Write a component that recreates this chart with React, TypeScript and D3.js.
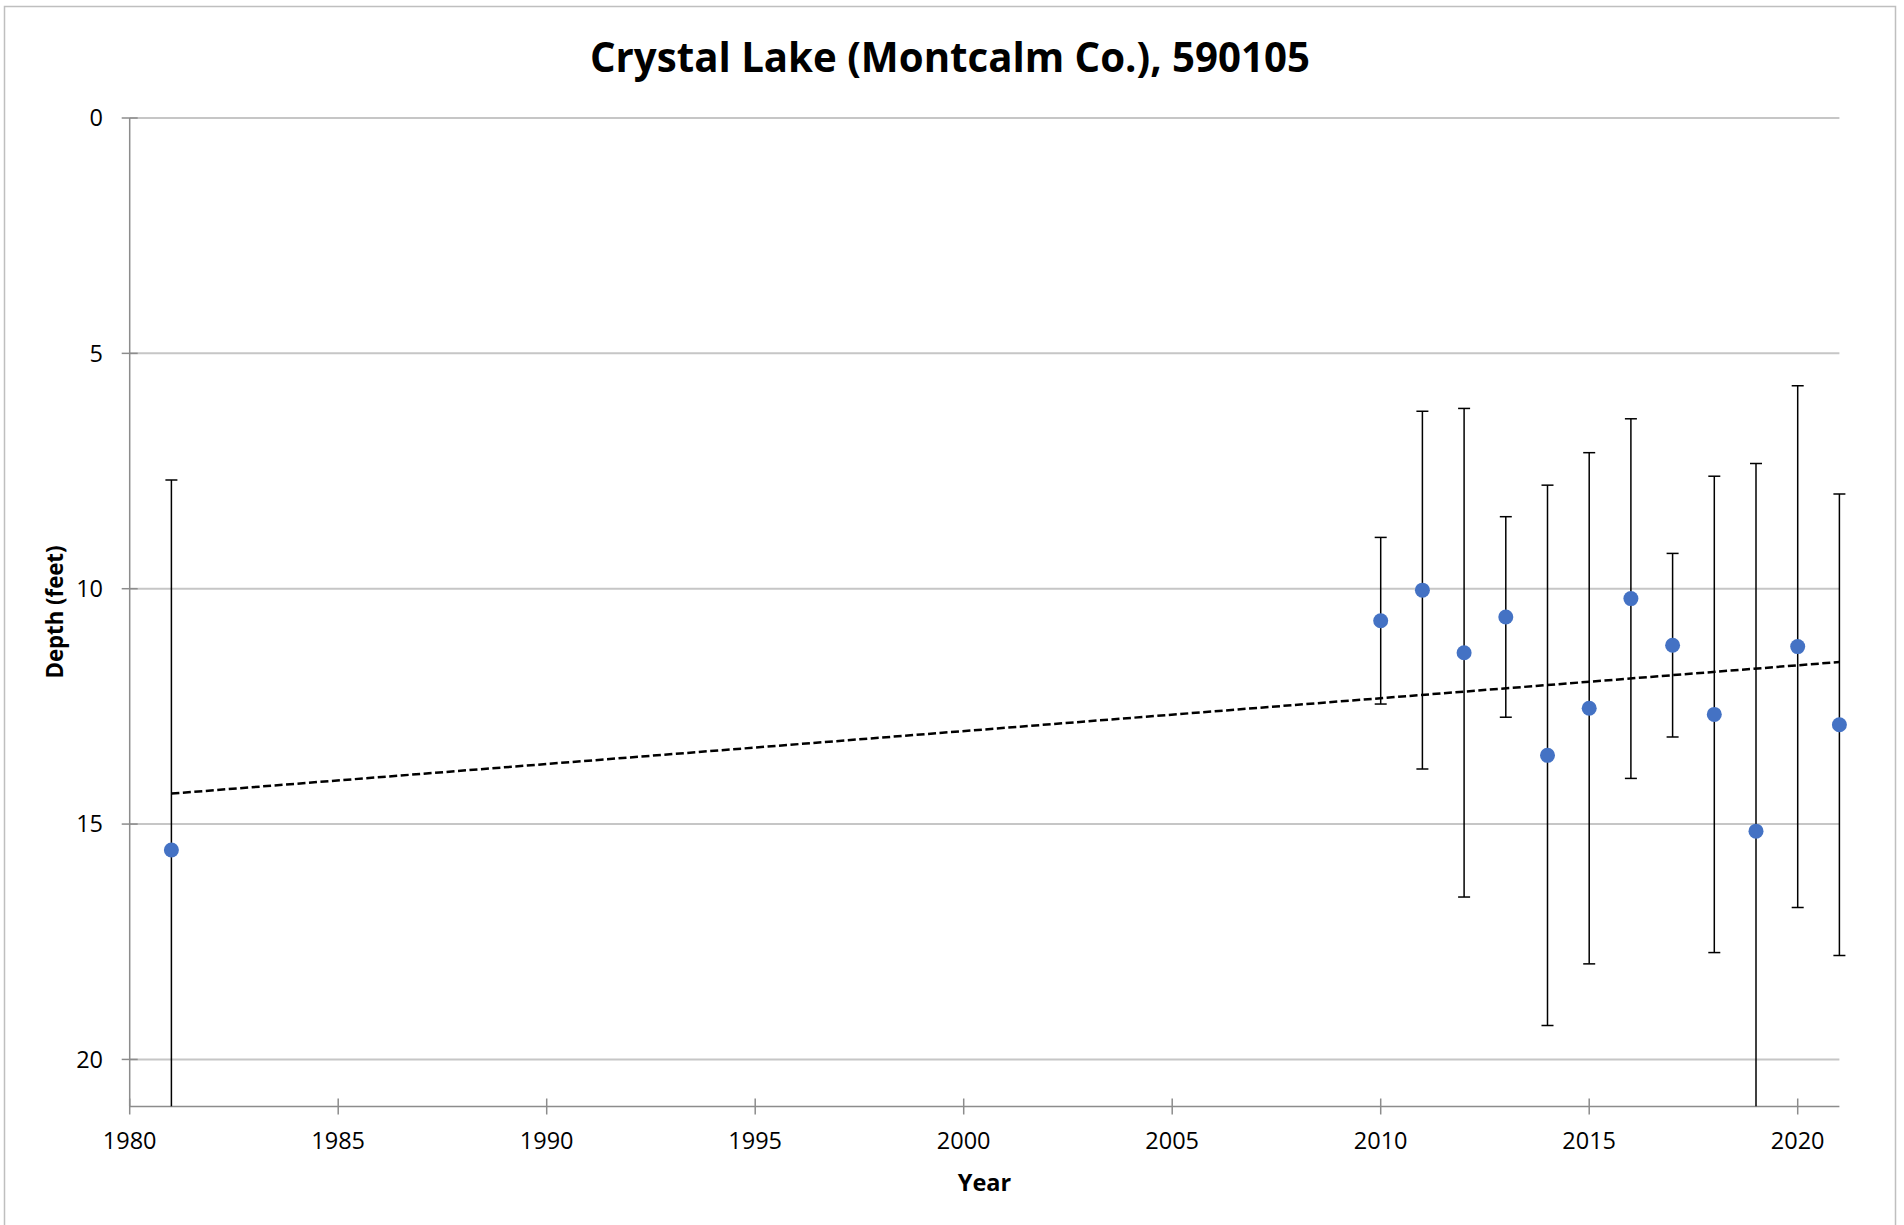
import React from "react";
import * as d3 from "d3";

const years = [1981, 2010, 2011, 2012, 2013, 2014, 2015, 2016, 2017, 2018, 2019, 2020, 2021];
const meanDepth = [15.55, 10.68, 10.03, 11.36, 10.6, 13.54, 12.54, 10.21, 11.2, 12.67, 15.15, 11.23, 12.89];
const stdDev = [7.86, 1.77, 3.8, 5.19, 2.13, 5.74, 5.43, 3.82, 1.95, 5.06, 7.81, 5.54, 4.9];
const xTicks = [1980, 1985, 1990, 1995, 2000, 2005, 2010, 2015, 2020];
const yTicks = [0, 5, 10, 15, 20];
const title = "Crystal Lake (Montcalm Co.), 590105";
const xLabel = "Year";
const yLabel = "Depth (feet)";

const W = 1904;
const H = 1225;
const left = 129.7;
const right = 1839.4;
const top = 118;
const bottom = 1106.5;
const FONT = "'Open Sans', 'Noto Sans', sans-serif";

export default function App() {
  const x = d3.scaleLinear().domain([1980, 2021]).range([left, right]);
  const y = d3.scaleLinear().domain([0, 21]).range([top, bottom]);

  // linear regression trend line
  const mx = d3.mean(years)!;
  const my = d3.mean(meanDepth)!;
  let sxy = 0;
  let sxx = 0;
  years.forEach((yr, i) => {
    sxy += (yr - mx) * (meanDepth[i] - my);
    sxx += (yr - mx) * (yr - mx);
  });
  const slope = sxy / sxx;
  const intercept = my - slope * mx;
  const x0 = d3.min(years)!;
  const x1 = d3.max(years)!;
  const trend = d3.line<number>().x((d) => x(d)).y((d) => y(intercept + slope * d));

  return (
    <svg width={W} height={H} style={{ position: "absolute", left: 0, top: 0, background: "#fff" }}>
      <defs>
        <clipPath id="plot">
          <rect x={left} y={top - 10} width={right - left + 10} height={bottom - top + 10} />
        </clipPath>
      </defs>
      <rect x={4.5} y={6.5} width={1891} height={1240} fill="#fff" stroke="#bfbfbf" strokeWidth={1.5} />
      <text
        x={950}
        y={71.7}
        textAnchor="middle"
        fontFamily={FONT}
        fontWeight={700}
        fontSize={41}
        textLength={720}
        lengthAdjust="spacingAndGlyphs"
        fill="#000"
      >
        {title}
      </text>

      {/* gridlines */}
      {yTicks.map((t) => (
        <line key={"g" + t} x1={left} x2={right} y1={y(t)} y2={y(t)} stroke="#c6c6c6" strokeWidth={2} />
      ))}

      {/* axes */}
      <line x1={left} x2={left} y1={top} y2={bottom} stroke="#8c8c8c" strokeWidth={1.5} />
      <line x1={left} x2={right} y1={bottom} y2={bottom} stroke="#8c8c8c" strokeWidth={1.5} />
      {yTicks.map((t) => (
        <g key={"yt" + t}>
          <line x1={left - 8} x2={left + 8} y1={y(t)} y2={y(t)} stroke="#8c8c8c" strokeWidth={1.5} />
          <text x={103} y={y(t)} dy="0.35em" textAnchor="end" fontFamily={FONT} fontSize={23.5} fill="#000">
            {t}
          </text>
        </g>
      ))}
      {xTicks.map((t) => (
        <g key={"xt" + t}>
          <line x1={x(t)} x2={x(t)} y1={bottom - 8} y2={bottom + 8} stroke="#8c8c8c" strokeWidth={1.5} />
          <text x={x(t)} y={1149} textAnchor="middle" fontFamily={FONT} fontSize={23.5} fill="#000">
            {t}
          </text>
        </g>
      ))}

      {/* axis titles */}
      <text x={984.5} y={1191} textAnchor="middle" fontFamily={FONT} fontWeight={700} fontSize={23.5} fill="#000">
        {xLabel}
      </text>
      <text
        transform={`translate(63,612) rotate(-90)`}
        textAnchor="middle"
        fontFamily={FONT}
        fontWeight={700}
        fontSize={24}
        textLength={133}
        lengthAdjust="spacingAndGlyphs"
        fill="#000"
      >
        {yLabel}
      </text>

      {/* error bars */}
      <g clipPath="url(#plot)">
        {years.map((yr, i) => {
          const lo = meanDepth[i] - stdDev[i];
          const hi = meanDepth[i] + stdDev[i];
          const cx = x(yr);
          return (
            <g key={"e" + yr} stroke="#000" strokeWidth={1.5}>
              <line x1={cx} x2={cx} y1={y(lo)} y2={Math.min(y(hi), bottom)} />
              <line x1={cx - 6} x2={cx + 6} y1={y(lo)} y2={y(lo)} />
              {y(hi) <= bottom && <line x1={cx - 6} x2={cx + 6} y1={y(hi)} y2={y(hi)} />}
            </g>
          );
        })}
      </g>

      {/* trend line */}
      <path d={trend([x0, x1]) || ""} fill="none" stroke="#000" strokeWidth={2.5} strokeDasharray="8,3.5" />

      {/* points */}
      {years.map((yr, i) => (
        <circle key={"p" + yr} cx={x(yr)} cy={y(meanDepth[i])} r={7.5} fill="#4472C4" />
      ))}
    </svg>
  );
}
